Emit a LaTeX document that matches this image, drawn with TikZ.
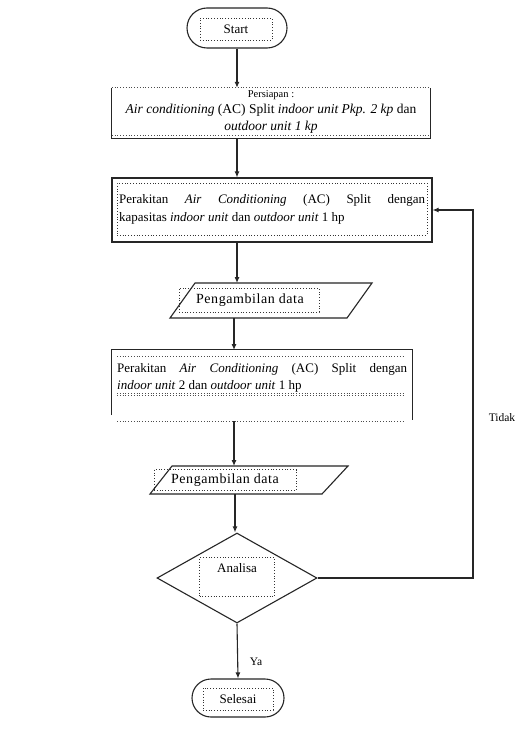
\documentclass[tikz,border=0pt]{standalone}
\usepackage{fontspec}
\setmainfont{Liberation Serif}
\usetikzlibrary{shapes.geometric,shapes.misc,arrows.meta,calc}
\begin{document}
\begin{tikzpicture}[x=1pt,y=-1pt,
  solidline/.style={line width=1.1pt, draw=black!85},
  term/.style={solidline, rounded rectangle, inner sep=0pt},
  box/.style={solidline, rectangle, inner sep=0pt},
  dotbox/.style={draw=black!80, dotted, line width=0.8pt, rectangle, inner sep=0pt},
  dotline/.style={draw=black!70, dotted, line width=0.8pt},
  flow/.style={solidline, -{Latex[length=6pt,width=5pt]}},
  txt/.style={font=\fontsize{13}{17}\selectfont, inner sep=0pt},
  widetxt/.style={font=\fontsize{14}{16}\selectfont\addfontfeature{LetterSpace=4}, inner sep=0pt},
  lbl/.style={font=\fontsize{11.5}{13}\selectfont, inner sep=0pt}
]
\useasboundingbox[fill=white] (0,0) rectangle (531,730);

% Start
\node[term, minimum width=100pt, minimum height=40pt] (start) at (237,28) {};
\node[dotbox, minimum width=72pt, minimum height=22pt, txt] (starttxt) at (236,29) {Start};

% Persiapan box
\node[inner sep=0pt, minimum width=318pt, minimum height=50pt] (persiapan) at (271,113) {};
\draw[solidline] (persiapan.north west) -- (persiapan.south west) -- (persiapan.south east) -- (persiapan.north east);
\draw[dotline] (persiapan.north west) -- (persiapan.north east);
\draw[dotline] ($(persiapan.south west)+(0,-3)$) -- ($(persiapan.south east)+(0,-3)$);
\node[txt, align=center, font=\fontsize{13.5}{16.5}\selectfont] (persiapantxt) at (271,111.5)
  {{\fontsize{10.5}{12}\selectfont Persiapan :}\\
   \textit{Air conditioning} (AC) Split \textit{indoor unit Pkp. 2 kp} dan\\
   \textit{outdoor unit 1 kp}};

% Perakitan 1
\node[box, minimum width=320pt, minimum height=64pt] (perakitan1) at (272,210) {};
\node[dotbox, minimum width=310pt, minimum height=52pt] (perakitan1in) at (272,209) {};
\node[txt, anchor=north west, align=left, font=\fontsize{13}{18.5}\selectfont] (perakitan1txt) at (119,194)
  {\makebox[306pt][s]{Perakitan \textit{Air Conditioning} (AC) Split dengan}\\
   kapasitas \textit{indoor unit} dan \textit{outdoor unit} 1 hp};

% Pengambilan data 1 (parallelogram)
\coordinate (pa1tl) at (195,283);
\coordinate (pa1tr) at (372,283);
\coordinate (pa1br) at (347,318);
\coordinate (pa1bl) at (170,318);
\draw[solidline] (pa1tl) -- (pa1tr) -- (pa1br) -- (pa1bl) -- cycle;
\node[dotbox, minimum width=140pt, minimum height=24pt] (ambil1box) at (249,300) {};
\node[widetxt] (ambil1) at (250,300) {Pengambilan data};
\coordinate (pa1top) at (237,283);
\coordinate (pa1bot) at (234,318);

% Perakitan 2
\node[inner sep=0pt, minimum width=300pt, minimum height=70pt] (perakitan2) at (262,385) {};
\draw[solidline] ($(perakitan2.south west)+(0,-5)$) -- (perakitan2.north west) -- (perakitan2.north east) -- (perakitan2.south east);
\draw[dotline] (117,356) -- (405,356);
\draw[dotline] (117,393) -- (405,393);
\draw[dotline] (117,395) -- (405,395);
\draw[dotline] (117,421) -- (405,421);
\node[txt, anchor=north west, align=left] (perakitan2txt) at (117,363)
  {\makebox[290pt][s]{Perakitan \textit{Air Conditioning} (AC) Split dengan}\\
   \textit{indoor unit} 2 dan \textit{outdoor unit} 1 hp};
\coordinate (pk2top) at (234,350);
\coordinate (pk2bot) at (234,421);

% Pengambilan data 2
\coordinate (pa2tl) at (172,466);
\coordinate (pa2tr) at (348,466);
\coordinate (pa2br) at (322,494);
\coordinate (pa2bl) at (150,494);
\draw[solidline] (pa2tl) -- (pa2tr) -- (pa2br) -- (pa2bl) -- cycle;
\node[dotbox, minimum width=142pt, minimum height=21pt] (ambil2box) at (225,480) {};
\node[widetxt] (ambil2) at (225,480) {Pengambilan data};
\coordinate (pa2top) at (234,466);
\coordinate (pa2bot) at (235,494);

% Analisa diamond
\node[diamond, solidline, inner sep=0pt, minimum width=160pt, minimum height=90pt, aspect=1.78] (analisa) at (237,578) {};
\node[dotbox, minimum width=75pt, minimum height=39pt] (analisain) at (237,577) {};
\node[txt] (analisatxt) at (237,568) {Analisa};

% Selesai
\node[term, minimum width=92pt, minimum height=38pt] (selesai) at (238,698) {};
\node[dotbox, minimum width=70pt, minimum height=22pt, txt] (selesaitxt) at (238,699) {Selesai};

% connectors
\draw[flow] (start.south) -- (start.south |- persiapan.north);
\draw[flow] (persiapan.south -| start.south) -- (perakitan1.north -| start.south);
\draw[flow] (perakitan1.south -| pa1top) -- (pa1top);
\draw[flow] (pa1bot) -- (pk2top);
\draw[flow] (pk2bot) -- (pa2top);
\draw[flow] (pa2bot) -- (analisa.north -| pa2bot);
\draw[flow] (analisa.south) -- (selesai.north);
\coordinate (loopc) at (473,400);
\draw[flow] (analisa.east) -| (loopc) |- (perakitan1.east);

\node[lbl] (tidak) at (502,418) {Tidak};
\node[lbl] (ya) at (256,662) {Ya};
\end{tikzpicture}
\end{document}
